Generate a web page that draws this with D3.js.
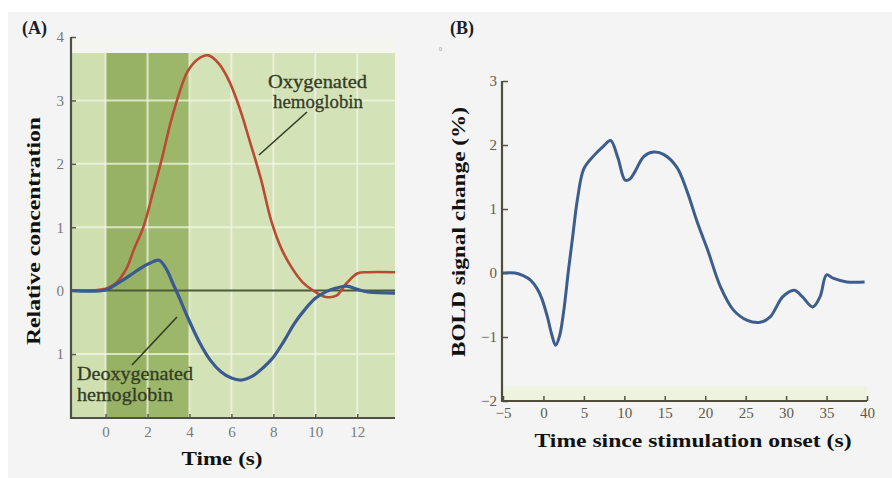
<!DOCTYPE html>
<html><head><meta charset="utf-8">
<script src="https://cdn.jsdelivr.net/npm/d3@7"></script>
<style>
html,body{margin:0;padding:0;background:#fff;}
svg{display:block;}
text{font-family:"Liberation Serif","DejaVu Serif",serif;}
</style></head>
<body>
<svg id="c" width="892" height="478"></svg>
<script>
// ---------- Panel A data ----------
const timeA = [-1.6, 0, 0.5, 1.0, 1.35, 1.8, 2.3, 2.7, 3.1, 3.5, 3.9, 4.4, 4.9, 5.4, 5.9, 6.4, 6.9, 7.4, 7.9, 8.4, 8.9, 9.4, 9.9, 10.5, 11.0, 11.5, 12.0, 12.5, 13.8];
const oxyValues = [0, 0.03, 0.12, 0.35, 0.65, 1.0, 1.6, 2.1, 2.65, 3.1, 3.45, 3.65, 3.71, 3.58, 3.3, 2.87, 2.33, 1.77, 1.1, 0.65, 0.35, 0.13, 0.0, -0.1, -0.08, 0.12, 0.27, 0.29, 0.29];
const timeDeoxy = [-1.6, 0, 0.5, 0.9, 1.3, 1.7, 2.1, 2.55, 2.9, 3.2, 3.5, 3.9, 4.5, 5.0, 5.5, 6.0, 6.5, 7.0, 7.5, 8.0, 8.5, 9.0, 9.5, 10.0, 10.5, 11.0, 11.5, 12.0, 12.5, 13.8];
const deoxyValues = [0, 0.01, 0.1, 0.18, 0.27, 0.36, 0.43, 0.48, 0.34, 0.12, -0.1, -0.41, -0.83, -1.1, -1.28, -1.38, -1.41, -1.35, -1.22, -1.05, -0.8, -0.52, -0.3, -0.12, -0.02, 0.04, 0.07, 0.02, -0.02, -0.04];
const xTicksA = [0, 2, 4, 6, 8, 10, 12];
const yTicksA = [-1, 0, 1, 2, 3, 4];
const yTickLabelsA = ["1", "0", "1", "2", "3", "4"];
const stimWindow = [0, 4];

// ---------- Panel B data ----------
const timeB = [-5, -3.5, -2.5, -1.6, -0.8, -0.2, 0.5, 1.0, 1.5, 2.0, 2.5, 3.1, 3.6, 4.2, 5.0, 6.2, 7.4, 8.3, 9.2, 10.1, 10.7, 11.3, 12.4, 13.6, 14.9, 16.5, 17.8, 19.0, 20.3, 21.9, 23.5, 25.2, 26.8, 28.0, 29.6, 31.0, 32.0, 33.3, 34.2, 35.0, 35.8, 37.5, 39.7];
const boldValues = [0, 0, -0.04, -0.11, -0.24, -0.4, -0.69, -0.95, -1.13, -0.98, -0.6, 0.05, 0.55, 1.15, 1.63, 1.83, 1.98, 2.07, 1.8, 1.45, 1.47, 1.58, 1.82, 1.89, 1.85, 1.65, 1.26, 0.8, 0.36, -0.22, -0.58, -0.74, -0.77, -0.69, -0.37, -0.27, -0.37, -0.53, -0.37, -0.03, -0.08, -0.14, -0.14];
const xTicksB = [-5, 0, 5, 10, 15, 20, 25, 30, 35, 40];
const yTicksB = [-2, -1, 0, 1, 2, 3];

const svg = d3.select("#c");
svg.append("rect").attr("x", 8).attr("y", 12).attr("width", 884).attr("height", 466).attr("fill", "#f4f4f4");

// ================= Panel A =================
const xA = d3.scaleLinear().domain([-1.6, 13.8]).range([72, 395]);
const yA = d3.scaleLinear().domain([-1, 4]).range([354, 37]);
const gA = svg.append("g");
const bottomA = 418;
const leftA = xA(-1.6), rightA = xA(13.8);

gA.append("rect").attr("x", leftA).attr("y", 37).attr("width", rightA - leftA).attr("height", 16).attr("fill", "#f3f5ee");
gA.append("rect").attr("x", leftA).attr("y", 53).attr("width", rightA - leftA).attr("height", bottomA - 53).attr("fill", "#d4e2b8");
gA.append("rect").attr("x", leftA).attr("y", 53).attr("width", xA(0) - leftA).attr("height", bottomA - 53).attr("fill", "#cfdfb0");
gA.append("rect").attr("x", xA(stimWindow[0])).attr("y", 53).attr("width", xA(stimWindow[1]) - xA(stimWindow[0])).attr("height", bottomA - 53).attr("fill", "#98b265");
gA.append("rect").attr("x", xA(2)).attr("y", 53).attr("width", xA(4) - xA(2)).attr("height", bottomA - 53).attr("fill", "#9fb86c").attr("opacity", 0.8);

gA.selectAll(".vg").data(xTicksA).enter().append("line")
  .attr("x1", d => xA(d)).attr("x2", d => xA(d)).attr("y1", 53).attr("y2", bottomA)
  .attr("stroke", "#f2f6e6").attr("stroke-width", 2).attr("opacity", 0.75);
gA.selectAll(".hg").data([-1, 1, 2, 3]).enter().append("line")
  .attr("x1", leftA).attr("x2", rightA).attr("y1", d => yA(d)).attr("y2", d => yA(d))
  .attr("stroke", "#f2f6e6").attr("stroke-width", 2).attr("opacity", 0.75);

gA.append("line").attr("x1", leftA).attr("x2", rightA).attr("y1", yA(0)).attr("y2", yA(0))
  .attr("stroke", "#4b5a38").attr("stroke-width", 2);

const axLA = d3.axisLeft(yA).tickValues(yTicksA).tickSize(-5).tickSizeOuter(0).tickPadding(7)
  .tickFormat((d, i) => yTickLabelsA[i]);
const gy = gA.append("g").attr("transform", `translate(${leftA - 1},0)`).call(axLA);
const axBA = d3.axisBottom(xA).tickValues(xTicksA).tickSize(-4).tickSizeOuter(0).tickPadding(8);
const gx = gA.append("g").attr("transform", `translate(0,${bottomA})`).call(axBA);
[gy, gx].forEach(g => {
  g.select(".domain").remove();
  g.selectAll(".tick line").attr("stroke", "#5a5a55").attr("stroke-width", 1.5);
  g.selectAll(".tick text").attr("fill", "#7a7a78").style("font-size", "15px").style("font-family", "Liberation Serif, serif");
});

const lineA = d3.line().x(d => xA(d[0])).y(d => yA(d[1])).curve(d3.curveCatmullRom.alpha(0.5));
gA.append("path").datum(timeA.map((t, i) => [t, oxyValues[i]])).attr("d", lineA)
  .attr("fill", "none").attr("stroke", "#bb4a33").attr("stroke-width", 2.6);
gA.append("path").datum(timeDeoxy.map((t, i) => [t, deoxyValues[i]])).attr("d", lineA)
  .attr("fill", "none").attr("stroke", "#3b5a8f").attr("stroke-width", 3.2);

// annotations
const annCol = "#333d26";
function ann(x, y, w, s) {
  gA.append("text").attr("x", x).attr("y", y).attr("fill", annCol)
    .attr("textLength", w).attr("lengthAdjust", "spacingAndGlyphs")
    .style("font-size", "18px").style("stroke", annCol).style("stroke-width", 0.3).text(s);
}
ann(268, 88, 99, "Oxygenated");
ann(273, 108, 90, "hemoglobin");
gA.append("line").attr("x1", 307).attr("y1", 112).attr("x2", 259).attr("y2", 155).attr("stroke", annCol).attr("stroke-width", 1.6);
ann(77, 380, 116, "Deoxygenated");
ann(77, 401, 96, "hemoglobin");
gA.append("line").attr("x1", 132).attr("y1", 365).attr("x2", 177).attr("y2", 317).attr("stroke", annCol).attr("stroke-width", 1.6);

svg.append("text").attr("x", 22).attr("y", 34).attr("fill", "#1c1c2a").style("font-size", "18px").style("font-weight", "bold").text("(A)");
svg.append("text").attr("transform", "translate(40,231) rotate(-90)").attr("text-anchor", "middle")
  .attr("textLength", 228).attr("lengthAdjust", "spacingAndGlyphs")
  .attr("fill", "#111").style("font-size", "19px").style("font-weight", "bold").text("Relative concentration");
svg.append("text").attr("x", 222).attr("y", 465).attr("text-anchor", "middle")
  .attr("textLength", 81).attr("lengthAdjust", "spacingAndGlyphs")
  .attr("fill", "#111").style("font-size", "19px").style("font-weight", "bold").text("Time (s)");

// ================= Panel B =================
const xB = d3.scaleLinear().domain([-5, 40]).range([503, 867]);
const yB = d3.scaleLinear().domain([-2, 3]).range([401, 81]);
const gB = svg.append("g");
gB.append("rect").attr("x", 503).attr("y", 386).attr("width", 364).attr("height", 15).attr("fill", "#ecf3da").attr("opacity", 0.8);

const axLB = d3.axisLeft(yB).tickValues(yTicksB).tickSize(-5).tickSizeOuter(0).tickPadding(6).tickFormat(d3.format("d"));
const gyB = gB.append("g").attr("transform", `translate(${xB(-5)},0)`).call(axLB);
const axBB = d3.axisBottom(xB).tickValues(xTicksB).tickSize(-5).tickSizeOuter(0).tickPadding(6).tickFormat(d3.format("d"));
const gxB = gB.append("g").attr("transform", `translate(0,${yB(-2)})`).call(axBB);
[gyB, gxB].forEach(g => {
  g.select(".domain").remove();
  g.selectAll(".tick line").attr("stroke", "#55543e").attr("stroke-width", 1.5);
  g.selectAll(".tick text").attr("fill", "#5f5a4a").style("font-size", "15px").style("font-family", "Liberation Serif, serif");
});

const lineB = d3.line().x(d => xB(d[0])).y(d => yB(d[1])).curve(d3.curveCatmullRom.alpha(0.5));
gB.append("path").datum(timeB.map((t, i) => [t, boldValues[i]])).attr("d", lineB)
  .attr("fill", "none").attr("stroke", "#3d5d8c").attr("stroke-width", 3);

svg.append("text").attr("x", 450).attr("y", 34).attr("fill", "#1c1c2a").style("font-size", "18px").style("font-weight", "bold").text("(B)");
svg.append("text").attr("x", 439).attr("y", 51).attr("fill", "#999").style("font-size", "6px").text("0");
svg.append("text").attr("transform", "translate(465,232) rotate(-90)").attr("text-anchor", "middle")
  .attr("textLength", 250).attr("lengthAdjust", "spacingAndGlyphs")
  .attr("fill", "#111").style("font-size", "19px").style("font-weight", "bold").text("BOLD signal change (%)");
svg.append("text").attr("x", 693).attr("y", 447).attr("text-anchor", "middle")
  .attr("textLength", 317).attr("lengthAdjust", "spacingAndGlyphs")
  .attr("fill", "#111").style("font-size", "19px").style("font-weight", "bold").text("Time since stimulation onset (s)");

// ---------- axis frame lines, drawn last ----------
const frame = svg.append("g").attr("class", "frame");
frame.append("line").attr("x1", 71).attr("y1", yA(4)).attr("x2", 71).attr("y2", bottomA + 1)
  .attr("stroke", "#4f4f48").attr("stroke-width", 2.2);
frame.append("line").attr("x1", 70).attr("y1", bottomA).attr("x2", rightA).attr("y2", bottomA)
  .attr("stroke", "#4f4f48").attr("stroke-width", 2.2);
frame.append("line").attr("x1", 502).attr("y1", yB(3)).attr("x2", 502).attr("y2", yB(-2) + 1)
  .attr("stroke", "#4f4e3a").attr("stroke-width", 2.2);
frame.append("line").attr("x1", 501).attr("y1", yB(-2)).attr("x2", xB(40)).attr("y2", yB(-2))
  .attr("stroke", "#4f4e3a").attr("stroke-width", 2.2);
</script>
</body></html>
